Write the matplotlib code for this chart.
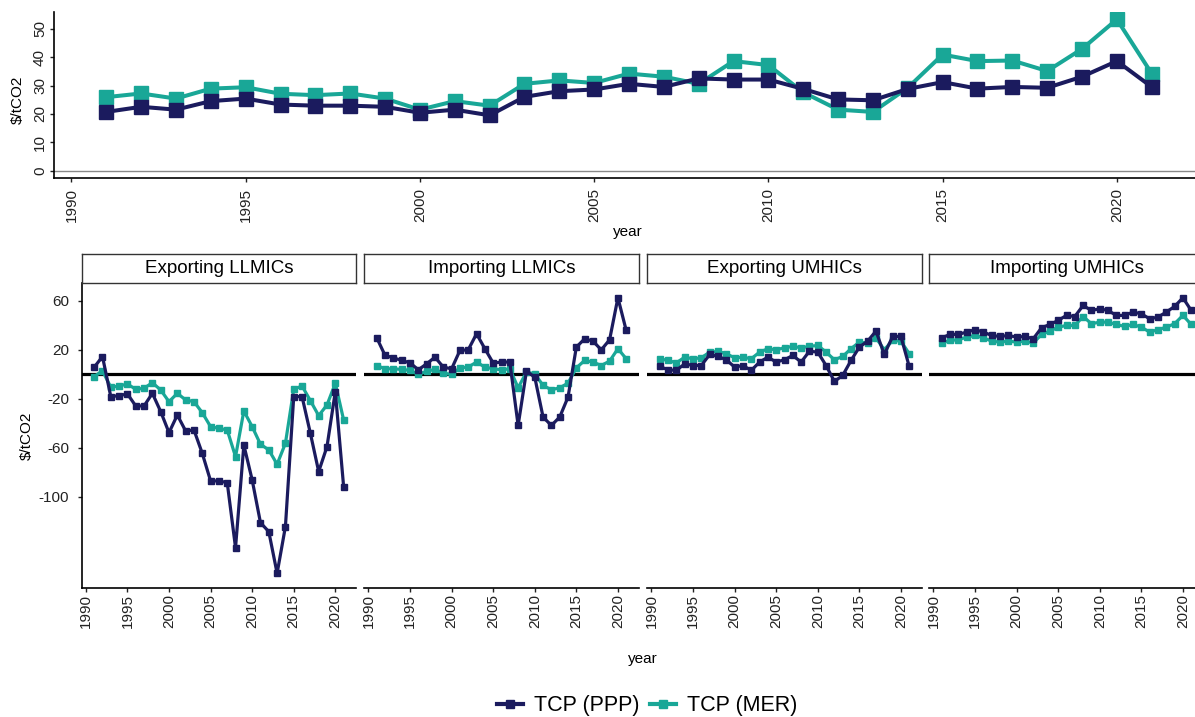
import numpy as np
import matplotlib
matplotlib.use('Agg')
import matplotlib.pyplot as plt
from matplotlib.lines import Line2D

plt.rcParams['font.family'] = ['Liberation Sans', 'DejaVu Sans']
plt.rcParams['axes.unicode_minus'] = False

years = list(range(1991, 2022))

# aggregate total carbon price, $/tCO2
total_ppp = [20.7, 22.5, 21.5, 24.5, 25.4, 23.3, 22.9, 22.9, 22.5, 20.4,
             21.5, 19.5, 26.0, 28.0, 28.6, 30.6, 29.5, 32.5, 32.1, 32.1,
             28.8, 25.1, 24.8, 28.8, 31.2, 28.9, 29.5, 29.2, 33.1, 38.6, 29.5]
total_mer = [25.9, 27.2, 25.4, 28.9, 29.4, 27.1, 26.6, 27.2, 25.4, 21.5,
             24.5, 22.9, 30.6, 31.8, 30.9, 34.2, 33.1, 30.6, 38.6, 37.2,
             27.6, 21.5, 20.7, 29.2, 40.9, 38.6, 38.8, 35.1, 42.9, 53.3, 34.2]

groups = ['Exporting LLMICs', 'Importing LLMICs', 'Exporting UMHICs', 'Importing UMHICs']

exp_llmic_ppp = [5.9, 14.6, -18.1, -17.3, -15.9, -25.7, -25.7, -15.4, -30.3, -47.5,
                 -33.1, -46.1, -45.3, -64.4, -86.9, -86.9, -88.3, -141.4, -57.6, -86.1,
                 -121.0, -128.3, -162.3, -124.2, -18.1, -18.1, -48.0, -79.3, -58.9, -14.0, -91.6]
exp_llmic_mer = [-1.8, 3.1, -10.5, -9.4, -7.8, -12.1, -11.3, -6.7, -12.7, -22.2,
                 -15.4, -20.8, -22.2, -31.2, -42.6, -44.0, -45.3, -67.1, -29.8, -42.6,
                 -57.0, -61.6, -73.3, -56.2, -12.1, -9.4, -21.4, -33.6, -24.9, -7.2, -37.1]
imp_llmic_ppp = [29.9, 15.5, 13.6, 11.4, 9.5, 3.8, 8.7, 14.1, 6.0, 4.6,
                 19.6, 20.1, 33.2, 21.0, 9.3, 10.1, 10.1, -41.6, 2.7, -2.2,
                 -34.8, -41.6, -34.8, -18.5, 22.3, 29.1, 27.2, 20.1, 28.3, 62.6, 35.9]
imp_llmic_mer = [7.3, 4.6, 4.6, 4.1, 3.3, 0.0, 2.7, 4.1, 1.1, 0.0,
                 5.4, 6.0, 10.1, 6.0, 4.6, 3.8, 4.6, -10.9, 1.9, 0.5,
                 -9.0, -12.5, -10.9, -7.1, 5.4, 11.4, 10.1, 7.3, 10.9, 21.0, 12.8]
exp_umhic_ppp = [6.5, 3.8, 3.3, 8.7, 7.3, 7.3, 16.3, 14.7, 12.0, 6.0,
                 7.3, 3.3, 10.1, 14.1, 10.1, 12.0, 15.5, 10.1, 19.0, 18.2,
                 7.3, -5.7, -0.8, 11.4, 22.3, 27.2, 35.4, 16.3, 31.0, 31.0, 6.5]
exp_umhic_mer = [12.8, 11.4, 9.5, 14.1, 12.8, 13.6, 18.2, 18.8, 16.9, 13.6,
                 14.1, 12.8, 18.2, 21.0, 20.1, 21.8, 22.9, 21.8, 22.9, 23.7,
                 18.2, 12.0, 14.7, 21.0, 26.4, 25.6, 29.9, 20.1, 27.8, 27.2, 16.9]
imp_umhic_ppp = [29.9, 32.7, 32.7, 34.6, 36.5, 34.6, 31.8, 31.0, 31.8, 30.5,
                 31.0, 29.1, 38.1, 40.8, 44.1, 48.2, 47.3, 56.3, 52.2, 53.6,
                 52.2, 48.2, 48.2, 50.9, 49.5, 45.4, 46.8, 50.9, 55.5, 62.6, 52.2]
imp_umhic_mer = [25.6, 27.8, 28.3, 30.5, 31.8, 29.9, 27.2, 26.4, 27.2, 26.4,
                 27.2, 25.6, 32.7, 35.4, 38.6, 40.0, 40.0, 47.3, 41.4, 42.7,
                 42.7, 40.8, 39.2, 40.8, 38.6, 34.6, 36.5, 38.6, 41.4, 48.2, 40.8]

group_ppp = [exp_llmic_ppp, imp_llmic_ppp, exp_umhic_ppp, imp_umhic_ppp]
group_mer = [exp_llmic_mer, imp_llmic_mer, exp_umhic_mer, imp_umhic_mer]

navy = '#1b1b5e'
teal = '#19a797'
txt = '#222222'

W, H = 1195, 717
fig = plt.figure(figsize=(W / 100, H / 100), dpi=100)


def box(x0, y0, x1, y1):
    # pixel box (top-left origin) -> figure fraction rect
    return [x0 / W, 1 - y1 / H, (x1 - x0) / W, (y1 - y0) / H]


def style(ax):
    for s in ['top', 'right']:
        ax.spines[s].set_visible(False)
    for s in ['left', 'bottom']:
        ax.spines[s].set_linewidth(1.2)
    ax.tick_params(width=1.0, length=3, colors=txt, labelsize=11)
    ax.set_xticks(range(1990, 2021, 5))
    ax.set_xlim(1989.5, 2022.5)
    ax.set_facecolor('none')


# top panel: all countries
ax = fig.add_axes(box(54, 11.7, 1204, 178.3))
style(ax)
ax.axhline(0, color='#888888', lw=1.0, zorder=1)
ax.plot(years, total_mer, color=teal, lw=2.9, marker='s', ms=10.5, zorder=3)
ax.plot(years, total_ppp, color=navy, lw=2.9, marker='s', ms=10.5, zorder=4)
ax.set_ylim(-2.68, 56)
ax.set_yticks(range(0, 51, 10))
ax.tick_params(axis='y', labelrotation=90, pad=2)
for lab in ax.get_yticklabels():
    lab.set_va('center')
ax.tick_params(axis='x', labelrotation=90, pad=4)
fig.text(628 / W, 1 - 231.7 / H, 'year', ha='center', va='center', fontsize=11, color='black')
fig.text(18 / W, 1 - 100 / H, '$/tCO2', ha='center', va='center', rotation=90,
         fontsize=11, color='black')

# bottom panels: one facet per country group
lefts = [81.7, 364.3, 647.3, 929.3]
width = 274.4
for i, name in enumerate(groups):
    x0 = lefts[i]
    ax = fig.add_axes(box(x0, 283.3, x0 + width, 588))
    style(ax)
    ax.axhline(0, color='black', lw=2.3, zorder=1)
    ax.plot(years, group_mer[i], color=teal, lw=2.3, marker='s', ms=4.3, zorder=3)
    ax.plot(years, group_ppp[i], color=navy, lw=2.3, marker='s', ms=4.3, zorder=4)
    ax.set_ylim(-174.3, 74.4)
    ax.tick_params(axis='x', labelrotation=90, pad=1.5)
    if i == 0:
        ax.set_yticks([60, 20, -20, -60, -100])
        ax.tick_params(axis='y', pad=6)
    else:
        ax.spines['left'].set_visible(False)
        ax.set_yticks([])

    sx = fig.add_axes(box(x0, 254, x0 + width, 283.3))
    sx.set_xticks([])
    sx.set_yticks([])
    for s in sx.spines.values():
        s.set_linewidth(1.0)
        s.set_color('#333333')
    sx.text(0.5, 0.5, name, ha='center', va='center', fontsize=13.5,
            color='black', transform=sx.transAxes)

fig.text(27 / W, 1 - 436 / H, '$/tCO2', ha='center', va='center', rotation=90,
         fontsize=11, color='black')
fig.text(642.7 / W, 1 - 659 / H, 'year', ha='center', va='center', fontsize=11, color='black')

handles = [Line2D([], [], color=navy, lw=3, marker='s', ms=5.5),
           Line2D([], [], color=teal, lw=3, marker='s', ms=5.5)]
fig.legend(handles, ['TCP (PPP)', 'TCP (MER)'], loc='center', ncol=2,
           bbox_to_anchor=(647 / W, 1 - 706 / H), frameon=False, fontsize=15.5,
           handlelength=1.2, handletextpad=0.5, columnspacing=0.5)

fig.savefig('out.png', dpi=100)
